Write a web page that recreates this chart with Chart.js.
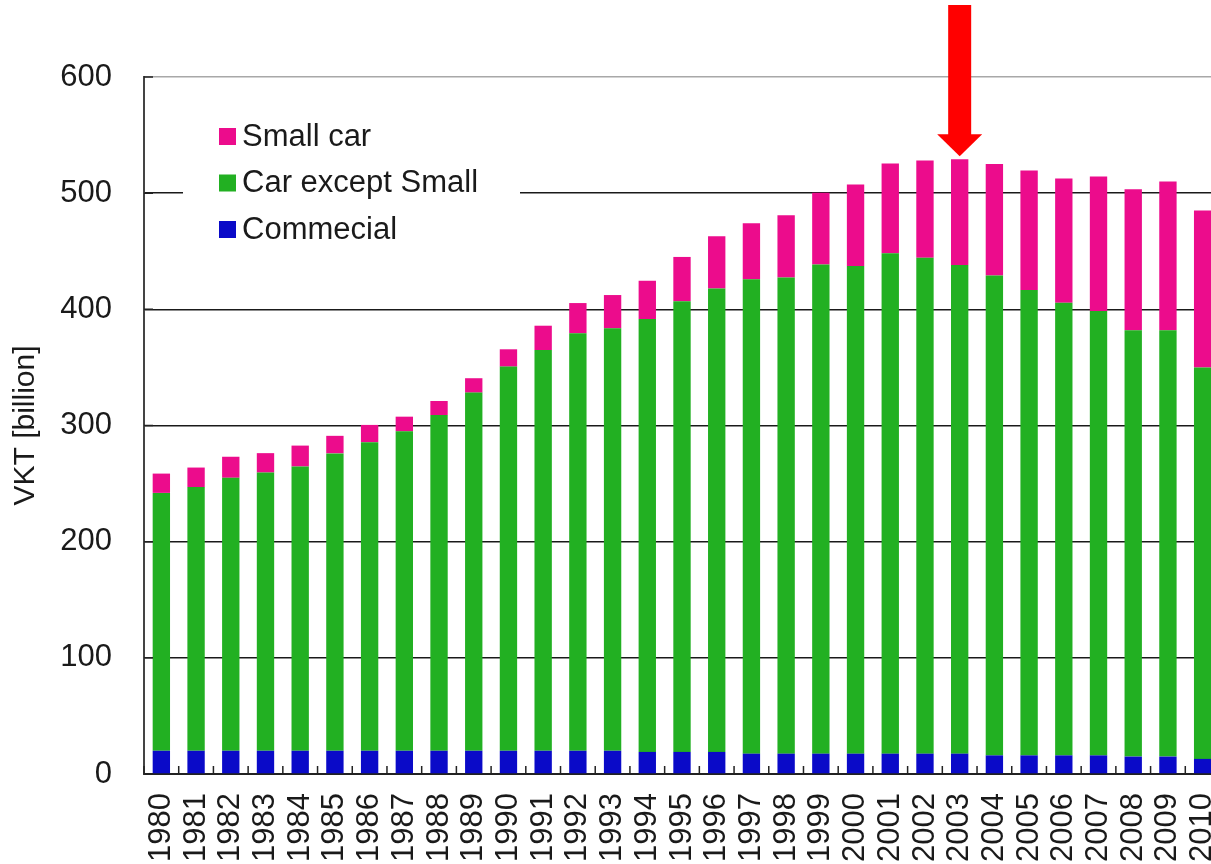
<!DOCTYPE html>
<html>
<head>
<meta charset="utf-8">
<script src="https://cdn.jsdelivr.net/npm/chart.js@4.4.1/dist/chart.umd.min.js"></script>
<style>
  html, body { margin: 0; padding: 0; background: #fff; overflow: hidden; }
  #wrap { position: absolute; left: 0; top: 0; width: 1220px; height: 864px; }
</style>
</head>
<body>
<div id="wrap"><canvas id="vktChart"></canvas></div>
<script>
const years = ['1980','1981','1982','1983','1984','1985','1986','1987','1988','1989',
               '1990','1991','1992','1993','1994','1995','1996','1997','1998','1999',
               '2000','2001','2002','2003','2004','2005','2006','2007','2008','2009','2010'];

// VKT in billion
const commercial = [20, 20, 20, 20, 20, 20, 20, 20, 20, 20,
                    20, 20, 20, 20, 19, 19, 19, 17.5, 17.5, 17.5,
                    17.5, 17.5, 17.5, 17.5, 16, 16, 16, 16, 15, 15, 13];
const carExceptSmall = [222, 227, 235, 239.5, 244.7, 256, 265.6, 275, 289, 308.3,
                        330.7, 345, 359.4, 363.7, 372.7, 388, 399, 408.3, 410, 421,
                        419.7, 430.7, 427, 420.6, 413.2, 400.6, 389.7, 382.5, 367, 367, 337];
const smallCar = [16.6, 16.8, 18.1, 16.7, 18, 15.1, 14.9, 12.6, 12.1, 12.4,
                  14.9, 20.9, 26, 28.6, 32.9, 38.1, 44.9, 48.2, 53.5, 61.9,
                  70.3, 77.3, 83.7, 91.1, 96, 102.9, 106.9, 115.8, 121.4, 128, 135];

const yTicks = [0, 100, 200, 300, 400, 500, 600];
const peakYear = '2003';

const pink = '#ec0c8c';
const green = '#22b022';
const blue = '#0a0ac8';
const fontFamily = '"Liberation Sans", Arial, sans-serif';

// small inward tick marks on both axes
const innerTicks = {
    id: 'innerTicks',
    afterDatasetsDraw(chart) {
        const ctx = chart.ctx;
        const x = chart.scales.x;
        const y = chart.scales.y;
        const pitch = x.getPixelForValue(1) - x.getPixelForValue(0);
        ctx.save();
        ctx.strokeStyle = '#222';
        ctx.lineWidth = 1.5;
        ctx.beginPath();
        for (let i = 0; i <= years.length; i++) {
            const px = x.getPixelForValue(i) - pitch / 2;
            ctx.moveTo(px, y.bottom);
            ctx.lineTo(px, y.bottom - 8);
        }
        yTicks.forEach(v => {
            const py = y.getPixelForValue(v);
            ctx.moveTo(x.left, py);
            ctx.lineTo(x.left + 9, py);
        });
        ctx.stroke();
        ctx.restore();
    }
};

// legend box inside the plot
const boxLegend = {
    id: 'boxLegend',
    afterDatasetsDraw(chart) {
        const ctx = chart.ctx;
        const items = [
            { label: 'Small car', color: pink },
            { label: 'Car except Small', color: green },
            { label: 'Commecial', color: blue }
        ];
        ctx.save();
        ctx.fillStyle = '#fff';
        ctx.fillRect(183, 100, 337, 155);
        ctx.font = '31px ' + fontFamily;
        ctx.textBaseline = 'middle';
        items.forEach((item, i) => {
            const cy = 136 + i * 46.5;
            ctx.fillStyle = item.color;
            ctx.fillRect(219, cy - 8, 17, 17);
            ctx.fillStyle = '#1a1a1a';
            ctx.fillText(item.label, 242, cy + 1);
        });
        ctx.restore();
    }
};

// red arrow pointing at the peak year
const peakArrow = {
    id: 'peakArrow',
    afterDraw(chart) {
        const ctx = chart.ctx;
        const idx = years.indexOf(peakYear);
        const total = commercial[idx] + carExceptSmall[idx] + smallCar[idx];
        const cx = chart.scales.x.getPixelForValue(idx);
        const tipY = chart.scales.y.getPixelForValue(total) - 3;
        const headH = 22;
        ctx.save();
        ctx.fillStyle = '#ff0000';
        ctx.fillRect(cx - 11.5, 5, 23, tipY - headH - 5 + 1);
        ctx.beginPath();
        ctx.moveTo(cx - 22.5, tipY - headH);
        ctx.lineTo(cx + 22.5, tipY - headH);
        ctx.lineTo(cx, tipY);
        ctx.closePath();
        ctx.fill();
        ctx.restore();
    }
};

const ctx = document.getElementById('vktChart').getContext('2d');
const vktChart = new Chart(ctx, {
    type: 'bar',
    data: {
        labels: years,
        datasets: [
            { label: 'Commecial', data: commercial, backgroundColor: blue },
            { label: 'Car except Small', data: carExceptSmall, backgroundColor: green },
            { label: 'Small car', data: smallCar, backgroundColor: pink }
        ]
    },
    options: {
        responsive: true,
        maintainAspectRatio: false,
        animation: false,
        layout: { padding: { top: 77, left: 0, right: 0, bottom: 0 } },
        datasets: {
            bar: { categoryPercentage: 1, barPercentage: 0.5, borderWidth: 0 }
        },
        plugins: {
            legend: { display: false },
            tooltip: { enabled: false }
        },
        scales: {
            x: {
                stacked: true,
                afterFit: scale => {
                    scale.height = 90;
                    scale.paddingRight = 0;
                    scale.paddingLeft = 0;
                },
                grid: { display: true, drawOnChartArea: false, drawTicks: false },
                border: { display: true, color: '#222', width: 2 },
                ticks: {
                    minRotation: 90,
                    maxRotation: 90,
                    autoSkip: false,
                    padding: 19,
                    color: '#1a1a1a',
                    font: { family: fontFamily, size: 31 }
                }
            },
            y: {
                stacked: true,
                min: 0,
                max: 600,
                afterFit: scale => { scale.width = 144; },
                afterBuildTicks: scale => { scale.ticks = yTicks.map(v => ({ value: v })); },
                grid: {
                    drawTicks: false,
                    lineWidth: 1.5,
                    color: c => (c.tick && c.tick.value === 600) ? '#a8a8a8' : '#1a1a1a'
                },
                border: { display: true, color: '#444', width: 2 },
                ticks: {
                    padding: 32,
                    color: '#1a1a1a',
                    font: { family: fontFamily, size: 31 }
                },
                title: {
                    display: true,
                    text: 'VKT [billion]',
                    color: '#1a1a1a',
                    font: { family: fontFamily, size: 30 },
                    padding: { top: 8, bottom: 0 }
                }
            }
        }
    },
    plugins: [innerTicks, boxLegend, peakArrow]
});
</script>
</body>
</html>
